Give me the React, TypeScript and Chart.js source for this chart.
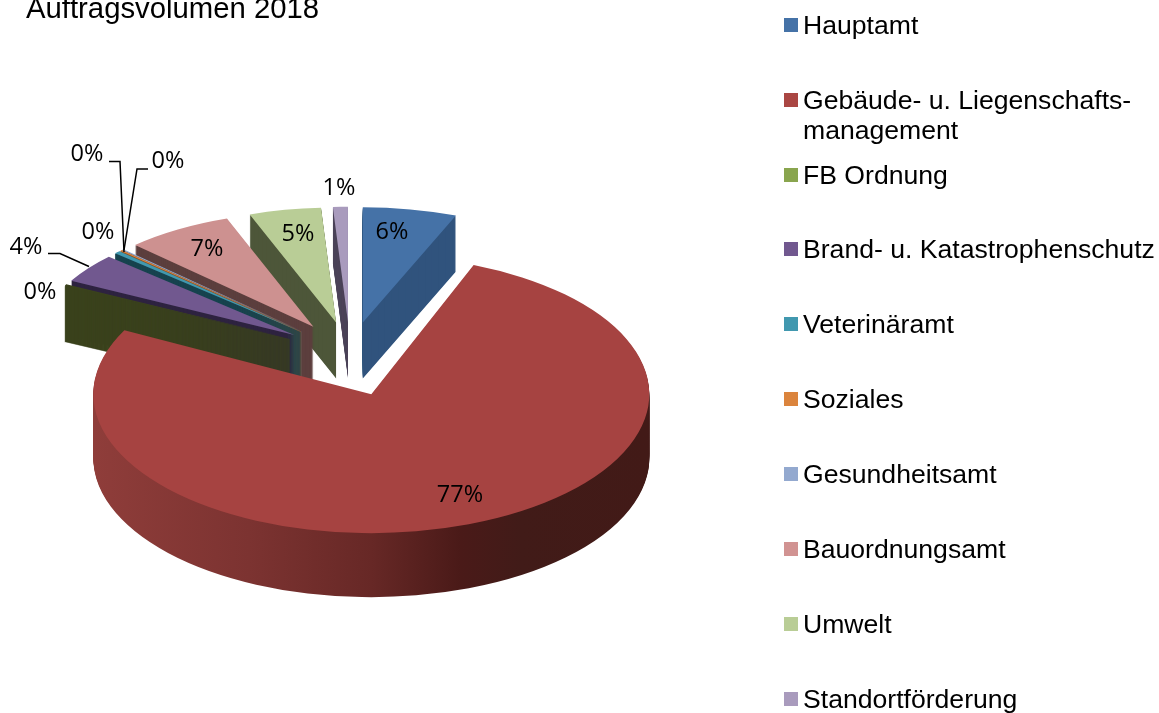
import React, { useEffect, useRef } from "react";
import { Chart, registerables } from "chart.js";

Chart.register(...registerables);

const titleText = "Auftragsvolumen 2018";
const categories = [
  "Hauptamt",
  "Gebäude- u. Liegenschafts-\nmanagement",
  "FB Ordnung",
  "Brand- u. Katastrophenschutz",
  "Veterinäramt",
  "Soziales",
  "Gesundheitsamt",
  "Bauordnungsamt",
  "Umwelt",
  "Standortförderung",
];
const values = [6, 76.6, 0.2, 4.1, 0.4, 0.15, 0.1, 6.9, 4.6, 0.95];
const percentLabels = ["6%", "77%", "0%", "4%", "0%", "0%", "0%", "7%", "5%", "1%"];

const topColors = ["#4572A7", "#AA4643", "#89A54E", "#71588F", "#4198AF", "#DB843D", "#93A9CF", "#D19392", "#B9CD96", "#A99BBD"];
const faceColors = ["#4572A7", "#A64341", "#3a421c", "#71588F", "#4198AF", "#DB843D", "#93A9CF", "#CD9190", "#B9CD96", "#A99BBD"];
const wallColors = ["#30537d", "#682b29", "#3a421c", "#2e2340", "#17434f", "#8a4f20", "#4b5a75", "#5c3f3e", "#4d5639", "#4c4459"];
const legendCenters = [25, 100, 175, 249, 324, 399, 474, 549, 624, 699];

const labelCenters: [number, number][] = [
  [392, 232], [460, 495], [40, 292], [26, 247], [98, 232], [87, 154], [168, 161], [207, 249], [298, 234], [339, 188],
];
const leaders: [number, number][][] = [
  [[48, 253.5], [60, 253.5], [89, 266.5]],
  [[109, 161.5], [120, 161.5], [124, 252]],
  [[148, 169], [137, 169], [124, 250]],
];

const backOrder = [9, 8, 7, 6, 5, 4, 3, 2, 0];
const thinSlices = [2, 4, 5, 6];
const EXPLODE = 0.27;
const backGroup = { x: 350, y: 353, r: 253, squash: 0.455, depth: 56 };
const frontGroup = { x: 345, y: 359, r: 278, squash: 0.5, depth: 64 };

const pie3d = {
  id: "pie3d",
  beforeDatasetsDraw(chart: any) {
    const ctx = chart.ctx;
    const arcs = chart.getDatasetMeta(0).data;
    const paint = (arc: any, g: any, shift: number, fill: any, edge: number) => {
      const s = g.r / arc.outerRadius;
      const mid = (arc.startAngle + arc.endAngle) / 2;
      const d = arc.outerRadius * EXPLODE;
      const keep = arc.options;
      arc.options = { ...keep, backgroundColor: fill, borderColor: fill, borderWidth: edge };
      ctx.save();
      ctx.translate(g.x, g.y + shift);
      ctx.scale(s, s * g.squash);
      ctx.translate(Math.cos(mid) * d, Math.sin(mid) * d);
      ctx.translate(-arc.x, -arc.y);
      arc.draw(ctx);
      ctx.restore();
      arc.options = keep;
    };
    const solid = (i: number, g: any, wall: any) => {
      const edge = thinSlices.includes(i) ? 1 : 0;
      for (let d = g.depth; d >= 1; d--) paint(arcs[i], g, d, wall, edge);
      paint(arcs[i], g, 0, faceColors[i], 0);
    };
    backOrder.forEach((i) => solid(i, backGroup, wallColors[i]));
    const red = arcs[1];
    const grad = ctx.createLinearGradient(red.x - red.outerRadius, 0, red.x + red.outerRadius, 0);
    grad.addColorStop(0, "#8f3d3a");
    grad.addColorStop(0.28, "#7c3331");
    grad.addColorStop(0.5, "#672826");
    grad.addColorStop(0.66, "#4a1a18");
    grad.addColorStop(0.77, "#411b18");
    grad.addColorStop(1, "#421a17");
    solid(1, frontGroup, grad);
    return false;
  },
  afterDraw(chart: any) {
    const ctx = chart.ctx;
    ctx.save();
    ctx.strokeStyle = "#000";
    ctx.lineWidth = 1.5;
    leaders.forEach((pts) => {
      ctx.beginPath();
      pts.forEach(([x, y], k) => (k ? ctx.lineTo(x, y) : ctx.moveTo(x, y)));
      ctx.stroke();
    });
    ctx.fillStyle = "#000";
    ctx.font = '23.5px "Open Sans"';
    ctx.textAlign = "center";
    ctx.textBaseline = "middle";
    percentLabels.forEach((t, i) => ctx.fillText(t, labelCenters[i][0], labelCenters[i][1]));
    ctx.restore();
  },
};

export default function App() {
  const ref = useRef<HTMLCanvasElement>(null);
  useEffect(() => {
    const chart = new Chart(ref.current as HTMLCanvasElement, {
      type: "pie",
      data: {
        labels: categories,
        datasets: [{ data: values, backgroundColor: topColors, borderWidth: 0 }],
      },
      options: {
        animation: false,
        responsive: false,
        layout: { padding: { left: 26, right: 0, top: 0, bottom: 0 } },
        plugins: {
          legend: { display: false },
          tooltip: { enabled: false },
          title: {
            display: true,
            text: titleText,
            align: "start",
            color: "#000",
            font: { family: '"Liberation Sans"', size: 29.3, weight: "normal" },
            padding: { top: -7.5, bottom: 0 },
          },
        },
      },
      plugins: [pie3d],
    } as any);
    return () => chart.destroy();
  }, []);
  return (
    <div style={{ position: "absolute", left: 0, top: 0, width: 1159, height: 713, overflow: "hidden", background: "#fff" }}>
      <canvas ref={ref} width={1159} height={713} />
      {categories.map((c, i) => (
        <div
          key={c}
          style={{
            position: "absolute",
            left: 784,
            top: legendCenters[i] - 15,
            display: "flex",
            alignItems: "flex-start",
            font: '26.6px/30px "Liberation Sans"',
            color: "#000",
            whiteSpace: "pre",
          }}
        >
          <span style={{ width: 14, height: 14, marginTop: 8, marginRight: 5, background: topColors[i], flex: "none" }} />
          <span>{c}</span>
        </div>
      ))}
    </div>
  );
}
